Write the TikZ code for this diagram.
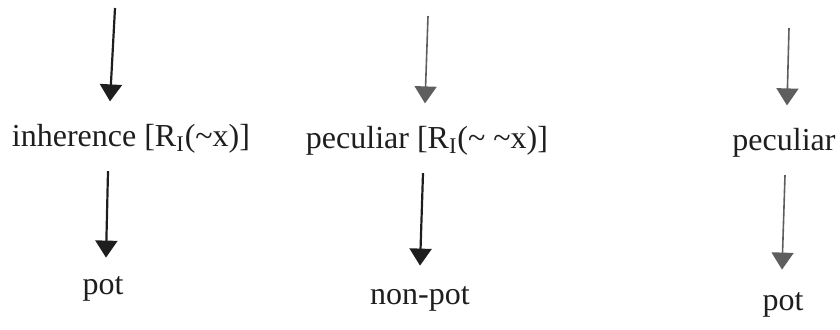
\documentclass[tikz,border=0pt]{standalone}
\usepackage{fontspec}
\setmainfont{Liberation Serif}
\usepackage{tikz}
\usetikzlibrary{arrows.meta,positioning}
\definecolor{inkx}{HTML}{1E1E1E}
\definecolor{greyx}{HTML}{5E5E5E}
\tikzset{
  lbl/.style={inner sep=0pt,anchor=base,font=\fontsize{16}{19}\selectfont,text=inkx},
  blk/.style={-{Triangle[width=11pt,length=8.5pt]},line width=1.1pt,inkx},
  gry/.style={-{Triangle[width=11pt,length=8.5pt]},line width=0.8pt,greyx}
}

\begin{document}
\begin{tikzpicture}[x=0.5pt,y=-0.5pt]
\useasboundingbox (0,0) rectangle (840,329);
% labels
\node[lbl] (inh) at (131,146) {inherence [R\textsubscript{I}(\textasciitilde x)]};
\node[lbl] (potl) at (103,294) {pot};
\node[lbl] (pec) at (427,148) {peculiar [R\textsubscript{I}(\textasciitilde\ \textasciitilde x)]};
\node[lbl] (npot) at (420,304) {non-pot};
\node[lbl] (pecr) at (784,150) {peculiar};
\node[lbl] (potr) at (783,310) {pot};
% free ends at the top
\coordinate (s1) at (115,8);
\coordinate (s3) at (428,16);
\coordinate (s5) at (789,28);
% arrows
\draw[blk] (s1) -- ([xshift=-10.5pt,yshift=11pt]inh.north);
\draw[blk] ([xshift=-11.5pt,yshift=-9pt]inh.south) -- ([xshift=1.5pt,yshift=9pt]potl.north);
\draw[gry] (s3) -- ([xshift=-1pt,yshift=11pt]pec.north);
\draw[blk] ([xshift=-2pt,yshift=-9pt]pec.south) -- ([yshift=10pt]npot.north);
\draw[gry] (s5) -- ([xshift=1.5pt,yshift=11pt]pecr.north);
\draw[gry] ([xshift=0.5pt,yshift=-9pt]pecr.south) -- ([xshift=-0.5pt,yshift=11pt]potr.north);
\end{tikzpicture}
\end{document}
